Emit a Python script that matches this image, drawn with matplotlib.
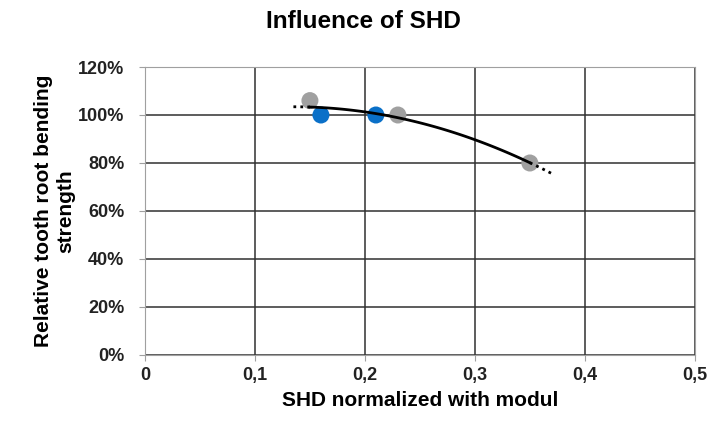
import numpy as np
import matplotlib.pyplot as plt
from matplotlib.ticker import FuncFormatter

plt.rcParams['font.family'] = ['Liberation Sans', 'DejaVu Sans']
plt.rcParams['font.weight'] = 'bold'

# data
gray_x = [0.15, 0.23, 0.35]
gray_y = [106, 100, 80]
blue_x = [0.16, 0.21]
blue_y = [100, 100]

fig = plt.figure(figsize=(7.26, 4.23), dpi=100)
ax = fig.add_axes([0.1997, 0.1608, 0.7573, 0.6808])

# quadratic trend through all points (Excel style trendline)
all_x = np.array(gray_x + blue_x)
all_y = np.array(gray_y + blue_y)
coef = np.polyfit(all_x, all_y, 2)
xs = np.linspace(all_x.min(), all_x.max(), 100)
ax.plot(xs, np.polyval(coef, xs), color='black', lw=2, zorder=4)
for a, b in [(all_x.min() - 0.015, all_x.min()), (all_x.max(), all_x.max() + 0.02)]:
    xe = np.linspace(a, b, 10)
    ax.plot(xe, np.polyval(coef, xe), color='black', lw=2, ls=(0, (1, 1.5)), zorder=4)

ax.scatter(gray_x, gray_y, s=150, color='#a0a0a0', zorder=3, edgecolors='none')
ax.scatter(blue_x, blue_y, s=150, color='#0a70c8', zorder=3, edgecolors='none')

ax.set_xlim(0, 0.5)
ax.set_ylim(0, 120)
ax.set_xticks(np.arange(0, 0.51, 0.1))
ax.set_yticks(np.arange(0, 121, 20))
ax.xaxis.set_major_formatter(FuncFormatter(lambda v, p: '0' if v == 0 else f'{v:.1f}'.replace('.', ',')))
ax.yaxis.set_major_formatter(FuncFormatter(lambda v, p: f'{v:.0f}%'))
ax.grid(True, color='#303030', lw=1.1)
ax.set_axisbelow(True)
for s in ax.spines.values():
    s.set_color('#a0a0a0')
ax.tick_params(colors='#a0a0a0', labelcolor='#222222', labelsize=13, length=4)
ax.tick_params(axis='x', pad=5)
ax.tick_params(axis='y', pad=11)

# title is centred on the whole figure, not the plot area
fig.text(0.5, 0.948, 'Influence of SHD', fontsize=17.5, fontweight='bold', ha='center', va='center')
ax.set_xlabel('SHD normalized with modul', fontsize=15, fontweight='bold', labelpad=5)
ax.set_ylabel('Relative tooth root bending\nstrength', fontsize=15, fontweight='bold', labelpad=2,
              linespacing=1.2)

fig.savefig('out.png', dpi=100)
